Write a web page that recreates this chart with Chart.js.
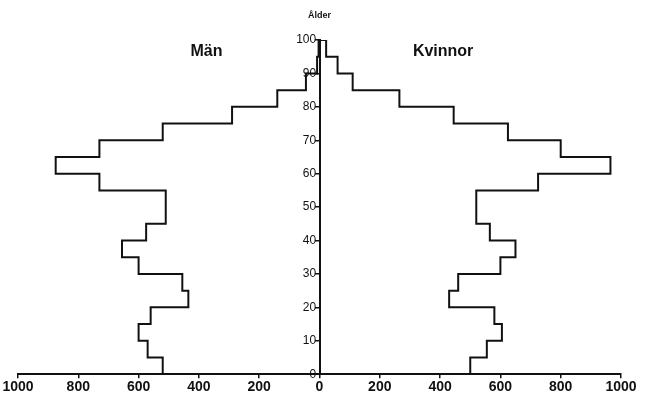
<!DOCTYPE html>
<html>
<head>
<meta charset="utf-8">
<script src="https://cdn.jsdelivr.net/npm/chart.js@4/dist/chart.umd.min.js"></script>
<style>
  html, body { margin: 0; padding: 0; background: #fff; }
  #wrap { width: 646px; height: 397px; }
</style>
</head>
<body>
<div id="wrap"><canvas id="pyramid"></canvas></div>
<script>
// ========================================
// DATA
// ========================================

// Age groups (start of each 5-year band)
const ageStarts = [0, 5, 10, 15, 20, 25, 30, 35, 40, 45, 50, 55, 60, 65, 70, 75, 80, 85, 90, 95];
const groupWidth = 5;

// Män (left side)
const men = [520, 570, 600, 560, 435, 455, 600, 655, 575, 510, 510, 730, 875, 730, 520, 290, 140, 45, 8, 3];

// Kvinnor (right side)
const women = [500, 555, 605, 580, 430, 460, 600, 650, 565, 520, 520, 725, 965, 800, 625, 445, 265, 110, 60, 22];

// Axis ticks
const xTickStep = 200;
const ageTickStep = 5;
const ageLabelStep = 10;

// ========================================
// OUTLINE
// ========================================

// Build the step outline: men from bottom to top, then women from top to bottom
function buildOutline() {
    const pts = [];
    ageStarts.forEach((a, i) => {
        pts.push({ x: -men[i], y: a });
        pts.push({ x: -men[i], y: a + groupWidth });
    });
    for (let i = ageStarts.length - 1; i >= 0; i--) {
        pts.push({ x: women[i], y: ageStarts[i] + groupWidth });
        pts.push({ x: women[i], y: ageStarts[i] });
    }
    return pts;
}

// Side titles and the age axis title
const sideLabels = {
    id: 'sideLabels',
    afterDraw(chart) {
        const { ctx, scales: { x, y } } = chart;
        ctx.save();
        ctx.fillStyle = '#111';
        ctx.textAlign = 'center';
        ctx.textBaseline = 'middle';
        ctx.font = 'bold 16px "Liberation Sans", Arial, sans-serif';
        ctx.fillText('Män', x.getPixelForValue(-375), y.getPixelForValue(96.5));
        ctx.fillText('Kvinnor', x.getPixelForValue(410), y.getPixelForValue(96.5));
        ctx.font = 'bold 9px "Liberation Sans", Arial, sans-serif';
        ctx.fillText('Ålder', x.getPixelForValue(0), y.top - 24);
        ctx.restore();
    }
};

// ========================================
// CHART
// ========================================

const ctx = document.getElementById('pyramid').getContext('2d');

new Chart(ctx, {
    type: 'scatter',
    data: {
        datasets: [{
            label: 'Ålder',
            data: buildOutline(),
            showLine: true,
            borderColor: '#111',
            borderWidth: 2,
            pointRadius: 0,
            fill: false,
            tension: 0
        }]
    },
    options: {
        responsive: true,
        maintainAspectRatio: false,
        animation: false,
        layout: {
            padding: { top: 40, left: 18, right: 25, bottom: 0 }
        },
        plugins: {
            legend: { display: false },
            tooltip: { enabled: false }
        },
        scales: {
            x: {
                type: 'linear',
                min: -1000,
                max: 1000,
                grid: { drawOnChartArea: false, tickLength: 4, color: '#111', lineWidth: 1.5 },
                border: { display: true, color: '#111', width: 2 },
                ticks: {
                    stepSize: xTickStep,
                    padding: 1,
                    color: '#111',
                    font: { family: '"Liberation Sans", Arial, sans-serif', size: 14, weight: 'bold' },
                    callback: v => Math.abs(v)
                }
            },
            y: {
                type: 'linear',
                position: { x: 0 },
                min: 0,
                max: 100,
                grid: { drawOnChartArea: false, tickLength: 4, color: '#111', lineWidth: 1.5 },
                border: { display: true, color: '#111', width: 2 },
                ticks: {
                    stepSize: ageTickStep,
                    color: '#111',
                    font: { family: '"Liberation Sans", Arial, sans-serif', size: 12 },
                    // trailing space keeps the label clear of the tick mark
                    callback: v => (v % ageLabelStep === 0 ? v + ' ' : '')
                }
            }
        }
    },
    plugins: [sideLabels]
});
</script>
</body>
</html>
